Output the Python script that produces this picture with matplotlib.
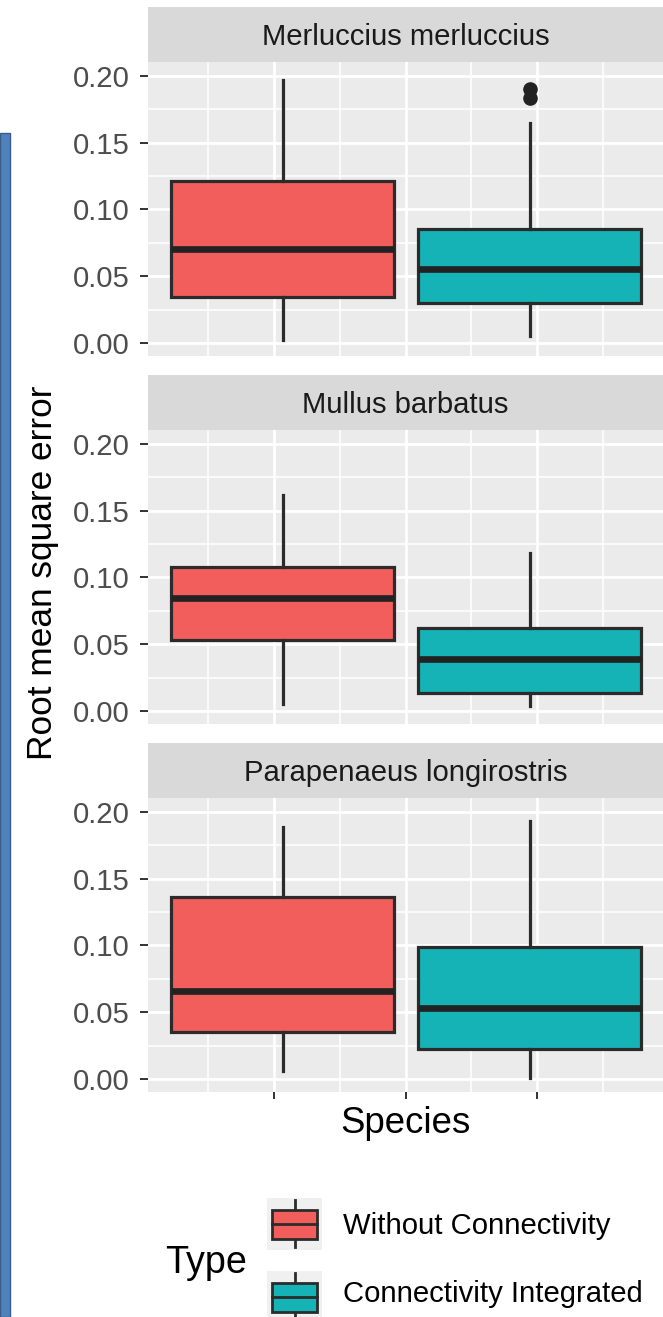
import matplotlib
matplotlib.use('Agg')
import matplotlib.pyplot as plt
from matplotlib.patches import Rectangle
from matplotlib.lines import Line2D

plt.rcParams['font.family'] = ['Liberation Sans', 'DejaVu Sans']

# ---------------- data ----------------
species = ["Merluccius merluccius", "Mullus barbatus", "Parapenaeus longirostris"]
types = ["Without Connectivity", "Connectivity Integrated"]

# values per species: [Without Connectivity, Connectivity Integrated]
whislo = [[0.0022, 0.0052], [0.0052, 0.0040], [0.0060, 0.0005]]
q1 = [[0.0343, 0.0302], [0.0532, 0.0137], [0.0352, 0.0227]]
med = [[0.0707, 0.0552], [0.0849, 0.0387], [0.0660, 0.0535]]
q3 = [[0.1210, 0.0855], [0.1077, 0.0620], [0.1364, 0.0992]]
whishi = [[0.1970, 0.1647], [0.1620, 0.1187], [0.1884, 0.1934]]
fliers = [[[], [0.1900, 0.1834]], [[], []], [[], []]]

yticks = [0.00, 0.05, 0.10, 0.15, 0.20]
ytick_labels = ["0.00", "0.05", "0.10", "0.15", "0.20"]
yminor = [0.025, 0.075, 0.125, 0.175]
xticks = [1, 2, 3]
xminor = [0.5, 1.5, 2.5, 3.5]

colors = ['#F25E5C', '#15B3B5']

# ---------------- layout ----------------
W, H = 663, 1317
fig = plt.figure(figsize=(W / 100, H / 100), dpi=100)
fig.patch.set_facecolor('white')


def px_rect(x0, y0, x1, y1):
    return [x0 / W, 1 - y1 / H, (x1 - x0) / W, (y1 - y0) / H]


positions = [1.065, 2.943]
box_width = 1.696
edge = '#2B2B2B'
TXT = 21.1
TITLE = 26.4
YTITLE = 25.4

panel_tops = [62, 430, 798]
for i, sp in enumerate(species):
    top = panel_tops[i]
    ax = fig.add_axes(px_rect(148, top, 663, top + 294))
    ax.set_facecolor('#EBEBEB')
    stats = []
    for j in range(2):
        stats.append(dict(med=med[i][j], q1=q1[i][j], q3=q3[i][j],
                          whislo=whislo[i][j], whishi=whishi[i][j],
                          fliers=fliers[i][j], label=types[j]))
    bp = ax.bxp(stats, positions=positions, widths=box_width, patch_artist=True,
                showcaps=False, manage_ticks=False, zorder=3,
                boxprops=dict(edgecolor=edge, linewidth=2.3),
                medianprops=dict(color='#222222', linewidth=4.8, solid_capstyle='butt'),
                whiskerprops=dict(color=edge, linewidth=2.3),
                flierprops=dict(marker='o', markerfacecolor='#222222',
                                markeredgecolor='#222222', markersize=9.5))
    for patch, c in zip(bp['boxes'], colors):
        patch.set_facecolor(c)

    ax.set_xlim(0.0418, 3.958)
    ax.set_ylim(-0.0098, 0.2105)
    ax.set_xticks(xticks)
    ax.set_xticks(xminor, minor=True)
    ax.set_yticks(yticks)
    ax.set_yticklabels(ytick_labels)
    ax.set_yticks(yminor, minor=True)
    ax.set_axisbelow(True)
    ax.grid(which='major', color='white', linewidth=2.0)
    ax.grid(which='minor', color='white', linewidth=1.1)
    for s in ax.spines.values():
        s.set_visible(False)
    ax.tick_params(which='minor', length=0)
    ax.tick_params(axis='y', which='major', length=5.5, width=1.4, color='#333333',
                   labelsize=TXT, labelcolor='#4D4D4D', pad=7.5)
    if i == 2:
        ax.tick_params(axis='x', which='major', length=5.0, width=1.4, color='#333333',
                       labelbottom=False)
    else:
        ax.tick_params(axis='x', which='major', length=0, labelbottom=False)

    # strip
    sax = fig.add_axes(px_rect(148, top - 55, 663, top))
    sax.set_facecolor('#D9D9D9')
    sax.set_xticks([])
    sax.set_yticks([])
    for s in sax.spines.values():
        s.set_visible(False)
    sax.text(0.5, 17 / 55, sp, transform=sax.transAxes, ha='center', va='baseline',
             fontsize=TXT, color='#1A1A1A')

# ---------------- overlay: titles, legend, decoration ----------------
ov = fig.add_axes([0, 0, 1, 1], zorder=-1)
ov.set_xlim(0, W)
ov.set_ylim(H, 0)
ov.axis('off')

# left blue bar
ov.add_patch(Rectangle((0, 133), 10, H - 133, facecolor='#4F81BD', edgecolor='#385D8A',
                       linewidth=1.0))

ov.text(405.5, 1133, "Species", ha='center', va='baseline', fontsize=TITLE, color='black')
ov.text(52, 573, "Root mean square error", rotation=90, rotation_mode='anchor',
        ha='center', va='baseline', fontsize=YTITLE, color='black')

ov.text(165, 1273, "Type", ha='left', va='baseline', fontsize=TITLE + 0.8, color='black')
key_tops = [1198, 1271]
label_baselines = [1234, 1302]
for k in range(2):
    t = key_tops[k]
    ov.add_patch(Rectangle((267, t), 55, 52, facecolor='#F0F0F0', edgecolor='none'))
    ov.add_line(Line2D([294.5, 294.5], [t + 2, t + 49], color=edge, linewidth=2.0))
    ov.add_patch(Rectangle((272, t + 11.5), 45, 29, facecolor=colors[k], edgecolor=edge,
                           linewidth=2.0, zorder=3))
    ov.add_line(Line2D([272, 317], [t + 26, t + 26], color=edge, linewidth=2.0, zorder=4))
    ov.text(343, label_baselines[k], types[k], ha='left', va='baseline', fontsize=TXT,
            color='black')

fig.savefig('out.png', dpi=100)
